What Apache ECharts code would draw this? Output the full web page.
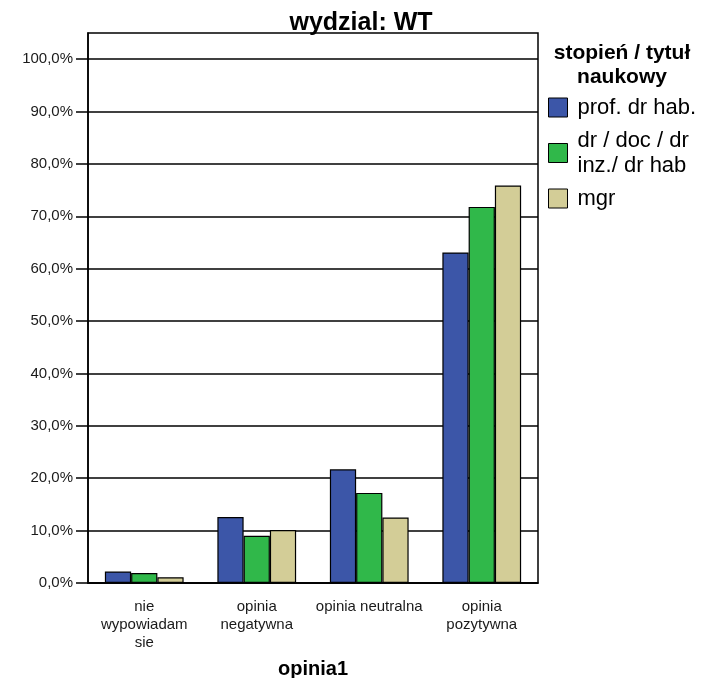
<!DOCTYPE html>
<html>
<head>
<meta charset="utf-8">
<script src="https://cdn.jsdelivr.net/npm/echarts@6/dist/echarts.min.js"></script>
<style>
html,body{margin:0;padding:0;background:#fff;}
#c{width:713px;height:678px;}
</style>
</head>
<body>
<div id="c"></div>
<script>
var categories = ['nie\nwypowiadam\nsie', 'opinia\nnegatywna', 'opinia neutralna', 'opinia\npozytywna'];
var seriesNames = ['prof. dr hab.', 'dr / doc / dr\ninz./ dr hab', 'mgr'];
var profValues = [2.2, 12.6, 21.7, 63.1];
var drValues = [1.9, 9.0, 17.2, 71.8];
var mgrValues = [1.1, 10.1, 12.5, 75.9];
var yTicks = [0, 10, 20, 30, 40, 50, 60, 70, 80, 90, 100];
var colors = ['#3c56a8', '#30b84a', '#d3cd97'];
var FONT = 'Liberation Sans, Arial, Helvetica, sans-serif';

var chart = echarts.init(document.getElementById('c'));
var values = [profValues, drValues, mgrValues];
chart.setOption({
  animation: false,
  backgroundColor: '#fff',
  title: {
    text: 'wydzial: WT',
    left: 356, textAlign: 'center', top: 6,
    textStyle: {fontFamily: FONT, fontSize: 25, fontWeight: 'bold', color: '#000'}
  },
  graphic: [{
    type: 'text', x: 622, y: 41,
    style: {
      text: 'stopień / tytuł\nnaukowy', fontFamily: FONT, fontSize: 21, fontWeight: 'bold',
      fill: '#000', align: 'center', verticalAlign: 'top', lineHeight: 24
    }
  }],
  legend: {
    orient: 'vertical', left: 548, top: 95, itemGap: 8, padding: 0,
    itemWidth: 19, itemHeight: 19, icon: 'rect',
    itemStyle: {borderColor: '#000', borderWidth: 1},
    textStyle: {fontFamily: FONT, fontSize: 22, color: '#000', lineHeight: 25, padding: [0,0,0,5]},
    data: seriesNames
  },
  grid: {
    left: 88, right: 175, top: 33, bottom: 95,
    show: true, borderColor: '#000', borderWidth: 1.5,
    containLabel: false, outerBoundsMode: 'none'
  },
  xAxis: {
    type: 'category', data: categories,
    axisLine: {lineStyle: {color: '#000', width: 1.5}},
    axisTick: {alignWithLabel: true, length: 13, lineStyle: {color: '#000', width: 1.5}},
    axisLabel: {fontFamily: FONT, fontSize: 15, color: '#1a1a1a', lineHeight: 18, margin: 15, interval: 0},
    name: 'opinia1', nameLocation: 'middle', nameGap: 76,
    nameTextStyle: {fontFamily: FONT, fontSize: 20, fontWeight: 'bold', color: '#000'}
  },
  yAxis: {
    type: 'value', min: 0, max: 105, interval: 10,
    axisLine: {show: true, lineStyle: {color: '#000', width: 1.5}},
    axisTick: {show: true, length: 12, customValues: yTicks, lineStyle: {color: '#000', width: 1.5}},
    axisLabel: {
      customValues: yTicks, fontFamily: FONT, fontSize: 15, color: '#1a1a1a', margin: 15,
      formatter: function (v) { return v.toFixed(1).replace('.', ',') + '%'; }
    },
    splitLine: {show: true, lineStyle: {color: '#000', width: 1.5}}
  },
  series: seriesNames.map(function (n, i) {
    return {
      name: n, type: 'bar', data: values[i],
      barGap: '0%', barCategoryGap: '30%',
      itemStyle: {color: colors[i], borderColor: '#000', borderWidth: 1.2}
    };
  })
});
</script>
</body>
</html>
